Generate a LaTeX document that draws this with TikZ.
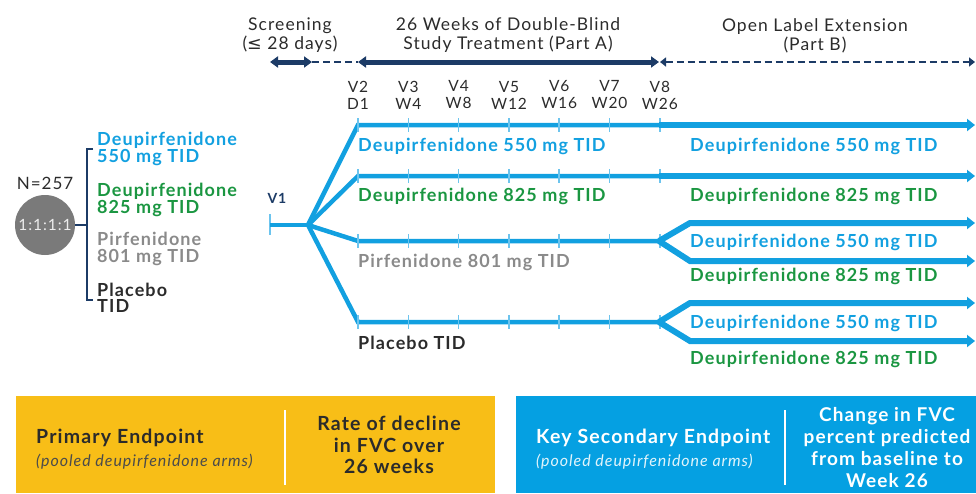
\documentclass[tikz,border=0pt]{standalone}
\usepackage{fontspec}
\setmainfont{Lato}[LetterSpace=6]
\newfontfamily\symfont{DejaVu Sans}
\usetikzlibrary{arrows.meta}
\definecolor{cblue}{HTML}{12A0E0}
\definecolor{ctick}{HTML}{6CC4EE}
\definecolor{cgreen}{HTML}{1A9641}
\definecolor{cgray}{HTML}{8A8A8A}
\definecolor{cnavy}{HTML}{1C3B66}
\definecolor{cdark}{HTML}{2B2B2B}
\definecolor{cyel}{HTML}{F8BE17}
\definecolor{cbox}{HTML}{05A0E2}
\definecolor{ccirc}{HTML}{7A7A7A}
\tikzset{
  x=1pt, y=-1pt,
  hdr/.style={font=\fontsize{17.5}{19}\selectfont, text=cdark, align=center, inner sep=0pt},
  vis/.style={font=\fontsize{15.5}{17}\selectfont, text=cdark, align=center, inner sep=0pt},
  arm/.style={font=\bfseries\fontsize{18}{18}\selectfont, anchor=west, inner sep=0pt},
  lft/.style={font=\bfseries\fontsize{18}{16.5}\selectfont, anchor=west, align=left, inner sep=0pt},
  armline/.style={draw=cblue, line width=4.5pt, line join=miter},
  armB/.style={draw=cblue, line width=6pt, -{Triangle[length=8pt,width=12pt]}},
  tickmark/.style={draw=ctick, line width=1.6pt},
  tl/.style={draw=cnavy, line width=5pt},
  tld/.style={draw=cnavy, line width=2pt, dash pattern=on 7pt off 4pt},
  ep/.style={font=\bfseries\fontsize{19.5}{21.5}\selectfont, align=center, inner sep=0pt},
}
\begin{document}
\begin{tikzpicture}
\useasboundingbox (0,0) rectangle (976,493);

% header
\node[hdr] (scr) at (290,35.5) {Screening\\({\symfont ≤} 28 days)};
\node[hdr] (partA) at (508,35.5) {26 Weeks of Double-Blind\\Study Treatment (Part A)};
\node[hdr] (partB) at (815,35.5) {Open Label Extension\\(Part B)};

% timeline
\coordinate (t0) at (270,62);
\coordinate (t1) at (312,62);
\coordinate (t2) at (358,62);
\coordinate (t3) at (659,62);
\coordinate (t4) at (975,62);
\draw[tl, {Triangle[length=8pt,width=11pt]}-{Triangle[length=8pt,width=11pt]}] (t0) -- (t1);
\draw[tld] (t1) -- (t2);
\draw[tl, {Triangle[length=8pt,width=11pt]}-{Triangle[length=8pt,width=11pt]}] (t2) -- (t3);
\draw[draw=cnavy, line width=2pt, dash pattern=on 7pt off 4pt, {Triangle[length=6pt,width=9pt]}-{Triangle[length=6pt,width=9pt]}] ([xshift=1pt]t3) -- (t4);

% visits
\foreach \x/\a/\b [count=\i] in {358/V2/D1, 408.3/V3/W4, 458.6/V4/W8, 509/V5/W12, 559.2/V6/W16, 609.5/V7/W20, 659.8/V8/W26}{
  \node[vis] (vis\i) at (\x,95) {\a\\\b};
}

% V1 and fork
\node[font=\bfseries\fontsize{14}{16}\selectfont, text=cnavy, inner sep=0pt] (v1) at (277,198) {V1};
\coordinate (v1s) at (270,225);
\coordinate (fork) at (308,225);
\draw[tickmark] (270,214) -- (270,235);
\draw[armline] (v1s) -- (fork);
\foreach \y/\n in {125/a,176/b,241/c,322/d}{
  \coordinate (s\n) at (358,\y);
  \coordinate (e\n) at (659,\y);
  \draw[armline] (fork) -- (s\n) -- (e\n);
  \foreach \x in {358,408.3,458.6,509,559.2,609.5,659.8}{
    \draw[tickmark] (\x,\y-7) -- (\x,\y+7);
  }
}
% Part B
\coordinate (fa) at (975,125);
\coordinate (fb) at (975,176);
\draw[armB] (ea) -- (fa);
\draw[armB] (eb) -- (fb);
\coordinate (c1) at (690,223);
\coordinate (c2) at (690,261);
\coordinate (d1) at (690,303);
\coordinate (d2) at (690,341);
\draw[armB] (ec) -- (c1) -- (975,223);
\draw[armB] (ec) -- (c2) -- (975,261);
\draw[armB] (ed) -- (d1) -- (975,303);
\draw[armB] (ed) -- (d2) -- (975,341);

% arm labels part A
\node[arm, text=cblue] (la) at (358,146) {Deupirfenidone 550 mg TID};
\node[arm, text=cgreen] (lb) at (358,196) {Deupirfenidone 825 mg TID};
\node[arm, text=cgray] (lc) at (358,262) {Pirfenidone 801 mg TID};
\node[arm, text=cdark] (ld) at (358,343) {Placebo TID};
% part B labels
\node[arm, text=cblue] (ra) at (690,146) {Deupirfenidone 550 mg TID};
\node[arm, text=cgreen] (rb) at (690,196) {Deupirfenidone 825 mg TID};
\node[arm, text=cblue] (rc1) at (690,242) {Deupirfenidone 550 mg TID};
\node[arm, text=cgreen] (rc2) at (690,276) {Deupirfenidone 825 mg TID};
\node[arm, text=cblue] (rd1) at (690,323) {Deupirfenidone 550 mg TID};
\node[arm, text=cgreen] (rd2) at (690,359) {Deupirfenidone 825 mg TID};

% left randomisation
\node[font=\fontsize{17}{19}\selectfont, text=cdark, inner sep=0pt] (n) at (45,183) {N=257};
\node[circle, fill=ccirc, minimum size=60pt, inner sep=0pt, text=white!85!gray, font=\fontsize{15.5}{17}\selectfont] (circ) at (45,225) {1:1:1:1};
\coordinate (bk) at (87,225);
\draw[cnavy, line width=1.3pt] (circ.east) -- (bk);
\draw[cnavy, line width=1.3pt] (93,149) -- (87,149) -- (87,300) -- (93,300);
\node[lft, text=cblue] (g1) at (97,149) {Deupirfenidone\\550 mg TID};
\node[lft, text=cgreen] (g2) at (97,200) {Deupirfenidone\\825 mg TID};
\node[lft, text=cgray] (g3) at (97,249) {Pirfenidone\\801 mg TID};
\node[lft, text=cdark] (g4) at (97,298) {Placebo\\TID};

% bottom boxes
\fill[cyel] (16,396) rectangle (495,493);
\fill[cbox] (516,396) rectangle (980,493);
\draw[white, line width=2pt] (285,410) -- (285,485);
\draw[white, line width=2pt] (785,410) -- (785,485);
\node[font=\bfseries\fontsize{19.5}{20}\selectfont, text=cdark, anchor=west, inner sep=0pt] (pe) at (36,438) {Primary Endpoint};
\node[font=\itshape\fontsize{16}{16}\selectfont, text=cdark!85, anchor=west, inner sep=0pt] (pes) at (36,462) {(pooled deupirfenidone arms)};
\node[ep, text=cdark] (ped) at (389,445) {Rate of decline\\in FVC over\\26 weeks};
\node[font=\bfseries\fontsize{19.5}{20}\selectfont, text=white, anchor=west, inner sep=0pt] (se) at (536,438) {Key Secondary Endpoint};
\node[font=\itshape\fontsize{16}{16}\selectfont, text=white!88!cbox, anchor=west, inner sep=0pt] (ses) at (536,462) {(pooled deupirfenidone arms)};
\node[ep, text=white, font=\bfseries\fontsize{19}{22}\selectfont] (sed) at (887,448) {Change in FVC\\percent predicted\\from baseline to\\Week 26};
\end{tikzpicture}
\end{document}
